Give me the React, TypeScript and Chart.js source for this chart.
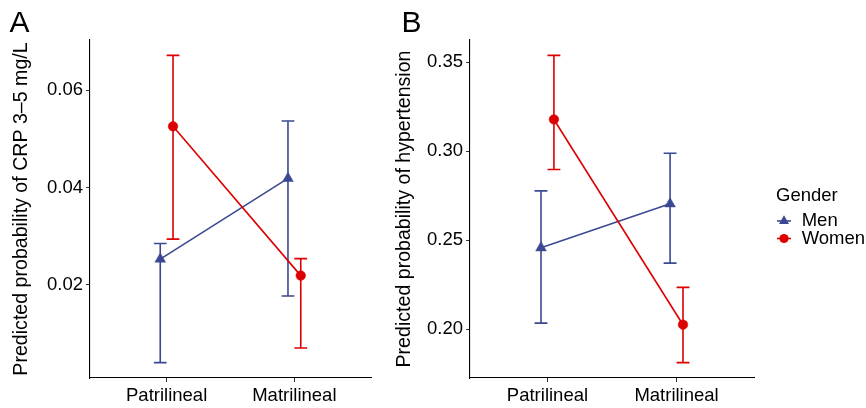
import React, { useEffect, useRef } from "react";
import { Chart, registerables } from "chart.js";

Chart.register(...registerables);

// ---------- data ----------
const CATEGORIES = ["Patrilineal", "Matrilineal"];
const SERIES = ["Men", "Women"];

const A_MEN = [0.0253, 0.0419];
const A_MEN_LO = [0.004, 0.0177];
const A_MEN_HI = [0.0285, 0.0537];
const A_WOMEN = [0.0526, 0.0219];
const A_WOMEN_LO = [0.0294, 0.007];
const A_WOMEN_HI = [0.0672, 0.0254];
const A_TICKS = [0.02, 0.04, 0.06];
const A_TITLE = "Predicted probability of CRP 3\u20135 mg/L";

const B_MEN = [0.2458, 0.2705];
const B_MEN_LO = [0.2035, 0.2372];
const B_MEN_HI = [0.2778, 0.2989];
const B_WOMEN = [0.3179, 0.2026];
const B_WOMEN_LO = [0.2898, 0.1813];
const B_WOMEN_HI = [0.3539, 0.2236];
const B_TICKS = [0.2, 0.25, 0.3, 0.35];
const B_TITLE = "Predicted probability of hypertension";

const LEGEND_TITLE = "Gender";

// ---------- styles ----------
const FONT = "'Liberation Sans', Arial, Helvetica, sans-serif";
const BLUE = "#3B4992";
const RED = "#DD0000";
const DODGE = 0.05;
const CAP_HALF = 0.05;
const LW = 1.6;
const TICK_COLOR = "#333";

const errorBarPlugin = {
  id: "errorBars",
  beforeDatasetsDraw(chart: any) {
    const { ctx, scales } = chart;
    const xs = scales.x;
    const ys = scales.y;
    ctx.save();
    chart.data.datasets.forEach((ds: any, di: number) => {
      if (!chart.isDatasetVisible(di)) return;
      ctx.strokeStyle = ds.borderColor;
      ctx.lineWidth = LW;
      CATEGORIES.forEach((_, i) => {
        const c = i + ds.dodge;
        const cx = xs.getPixelForValue(c);
        const xl = xs.getPixelForValue(c - CAP_HALF);
        const xr = xs.getPixelForValue(c + CAP_HALF);
        const yl = ys.getPixelForValue(ds.errLo[i]);
        const yh = ys.getPixelForValue(ds.errHi[i]);
        ctx.beginPath();
        ctx.moveTo(cx, yl);
        ctx.lineTo(cx, yh);
        ctx.moveTo(xl, yl);
        ctx.lineTo(xr, yl);
        ctx.moveTo(xl, yh);
        ctx.lineTo(xr, yh);
        ctx.stroke();
      });
    });
    ctx.restore();
  },
};

function drawMarker(ctx: CanvasRenderingContext2D, style: string, x: number, y: number, r: number) {
  ctx.beginPath();
  if (style === "triangle") {
    let rad = 0;
    ctx.moveTo(x + Math.sin(rad) * r, y - Math.cos(rad) * r);
    rad += (2 * Math.PI) / 3;
    ctx.lineTo(x + Math.sin(rad) * r, y - Math.cos(rad) * r);
    rad += (2 * Math.PI) / 3;
    ctx.lineTo(x + Math.sin(rad) * r, y - Math.cos(rad) * r);
    ctx.closePath();
  } else {
    ctx.arc(x, y, r, 0, Math.PI * 2);
  }
  ctx.fill();
}

type Panel = {
  label: string;
  labelX: number;
  men: number[];
  menLo: number[];
  menHi: number[];
  women: number[];
  womenLo: number[];
  womenHi: number[];
  ticks: number[];
  title: string;
  titlePad: number;
  padRight: number;
  legend: boolean;
};

function buildChart(canvas: HTMLCanvasElement, p: Panel) {
  const all = [...p.menLo, ...p.menHi, ...p.womenLo, ...p.womenHi];
  const lo = Math.min(...all);
  const hi = Math.max(...all);
  const ex = (hi - lo) * 0.05;

  const styles = [
    { color: BLUE, point: "triangle", radius: 6.2, dodge: -DODGE, order: 1 },
    { color: RED, point: "circle", radius: 4.8, dodge: DODGE, order: 0 },
  ];
  const values = [p.men, p.women];
  const los = [p.menLo, p.womenLo];
  const his = [p.menHi, p.womenHi];

  const datasets = SERIES.map((name, j) => ({
    label: name,
    data: CATEGORIES.map((_, i) => ({ x: i + styles[j].dodge, y: values[j][i] })),
    errLo: los[j],
    errHi: his[j],
    dodge: styles[j].dodge,
    borderColor: styles[j].color,
    backgroundColor: styles[j].color,
    borderWidth: LW,
    pointStyle: styles[j].point,
    pointRadius: styles[j].radius,
    pointBorderWidth: 0.5,
    pointBackgroundColor: styles[j].color,
    pointBorderColor: styles[j].color,
    tension: 0,
    fill: false,
    order: styles[j].order,
  }));

  const decorPlugin = {
    id: "decor",
    afterDraw(chart: any) {
      const ctx = chart.ctx as CanvasRenderingContext2D;
      ctx.save();
      ctx.fillStyle = "#000";
      ctx.textBaseline = "alphabetic";
      ctx.textAlign = "left";
      ctx.font = `30px ${FONT}`;
      ctx.fillText(p.label, p.labelX, 32.3);
      if (p.legend) {
        ctx.font = `18.5px ${FONT}`;
        ctx.fillText(LEGEND_TITLE, 396, 201);
        SERIES.forEach((name, j) => {
          const y = 221 + j * 17.5;
          ctx.strokeStyle = styles[j].color;
          ctx.fillStyle = styles[j].color;
          ctx.lineWidth = LW;
          ctx.beginPath();
          ctx.moveTo(397, y);
          ctx.lineTo(411, y);
          ctx.stroke();
          drawMarker(ctx, styles[j].point, 404, y, styles[j].point === "triangle" ? 5.8 : 4.6);
          ctx.fillStyle = "#000";
          ctx.textBaseline = "middle";
          ctx.fillText(name, 421.7, y);
          ctx.textBaseline = "alphabetic";
        });
      }
      ctx.restore();
    },
  };

  const isCat = (v: number) => CATEGORIES.some((_, i) => Math.abs(v - i) < 1e-9);
  const isYTick = (v: number) => p.ticks.some((t) => Math.abs(v - t) < 1e-9);

  return new Chart(canvas, {
    type: "line",
    data: { datasets: datasets as any },
    plugins: [errorBarPlugin, decorPlugin],
    options: {
      animation: false,
      responsive: false,
      devicePixelRatio: window.devicePixelRatio || 1,
      layout: { padding: { top: 40, right: p.padRight, bottom: 0, left: 0 } },
      plugins: { legend: { display: false }, tooltip: { enabled: false }, title: { display: false } },
      scales: {
        x: {
          type: "linear",
          min: -0.6,
          max: 1.6,
          afterBuildTicks: (s: any) => {
            s.ticks = CATEGORIES.map((_, i) => ({ value: i }));
          },
          afterFit: (s: any) => {
            s.height = 30;
          },
          ticks: {
            callback: (v: any) => (isCat(Number(v)) ? CATEGORIES[Math.round(Number(v))] : ""),
            font: { size: 18.5, family: FONT },
            color: "#000",
            padding: 3,
            maxRotation: 0,
            autoSkip: false,
          },
          grid: {
            display: true,
            drawOnChartArea: false,
            drawTicks: true,
            tickLength: 4,
            color: (c: any) => (c.tick && isCat(c.tick.value) ? TICK_COLOR : "rgba(0,0,0,0)"),
            lineWidth: 1,
          },
          border: { display: true, color: "#000", width: 1.1 },
        },
        y: {
          type: "linear",
          min: lo - ex,
          max: hi + ex,
          afterBuildTicks: (s: any) => {
            s.ticks = p.ticks.map((v) => ({ value: v }));
          },
          afterFit: (s: any) => {
            s.width = 90;
          },
          ticks: {
            callback: (v: any) => (isYTick(Number(v)) ? Number(v).toFixed(2) : ""),
            font: { size: 18.5, family: FONT },
            color: "#000",
            padding: 3,
          },
          grid: {
            display: true,
            drawOnChartArea: false,
            drawTicks: true,
            tickLength: 4,
            color: (c: any) => (c.tick && isYTick(c.tick.value) ? TICK_COLOR : "rgba(0,0,0,0)"),
            lineWidth: 1,
          },
          border: { display: true, color: "#000", width: 1.1 },
          title: {
            display: true,
            text: p.title,
            font: { size: 19.6, family: FONT },
            color: "#000",
            padding: { top: p.titlePad, bottom: 0 },
          },
        },
      },
    } as any,
  });
}

export default function App() {
  const refA = useRef<HTMLCanvasElement>(null);
  const refB = useRef<HTMLCanvasElement>(null);

  useEffect(() => {
    document.body.style.margin = "0";
    const a = buildChart(refA.current!, {
      label: "A",
      labelX: 9.5,
      men: A_MEN,
      menLo: A_MEN_LO,
      menHi: A_MEN_HI,
      women: A_WOMEN,
      womenLo: A_WOMEN_LO,
      womenHi: A_WOMEN_HI,
      ticks: A_TICKS,
      title: A_TITLE,
      titlePad: 10,
      padRight: 9,
      legend: false,
    });
    const b = buildChart(refB.current!, {
      label: "B",
      labelX: 21.5,
      men: B_MEN,
      menLo: B_MEN_LO,
      menHi: B_MEN_HI,
      women: B_WOMEN,
      womenLo: B_WOMEN_LO,
      womenHi: B_WOMEN_HI,
      ticks: B_TICKS,
      title: B_TITLE,
      titlePad: 13,
      padRight: 112,
      legend: true,
    });
    return () => {
      a.destroy();
      b.destroy();
    };
  }, []);

  return (
    <div style={{ position: "relative", width: 866, height: 408, background: "#fff", overflow: "hidden" }}>
      <canvas ref={refA} width={380} height={408} style={{ position: "absolute", left: 0, top: 0, width: 380, height: 408 }} />
      <canvas ref={refB} width={486} height={408} style={{ position: "absolute", left: 380, top: 0, width: 486, height: 408 }} />
    </div>
  );
}
